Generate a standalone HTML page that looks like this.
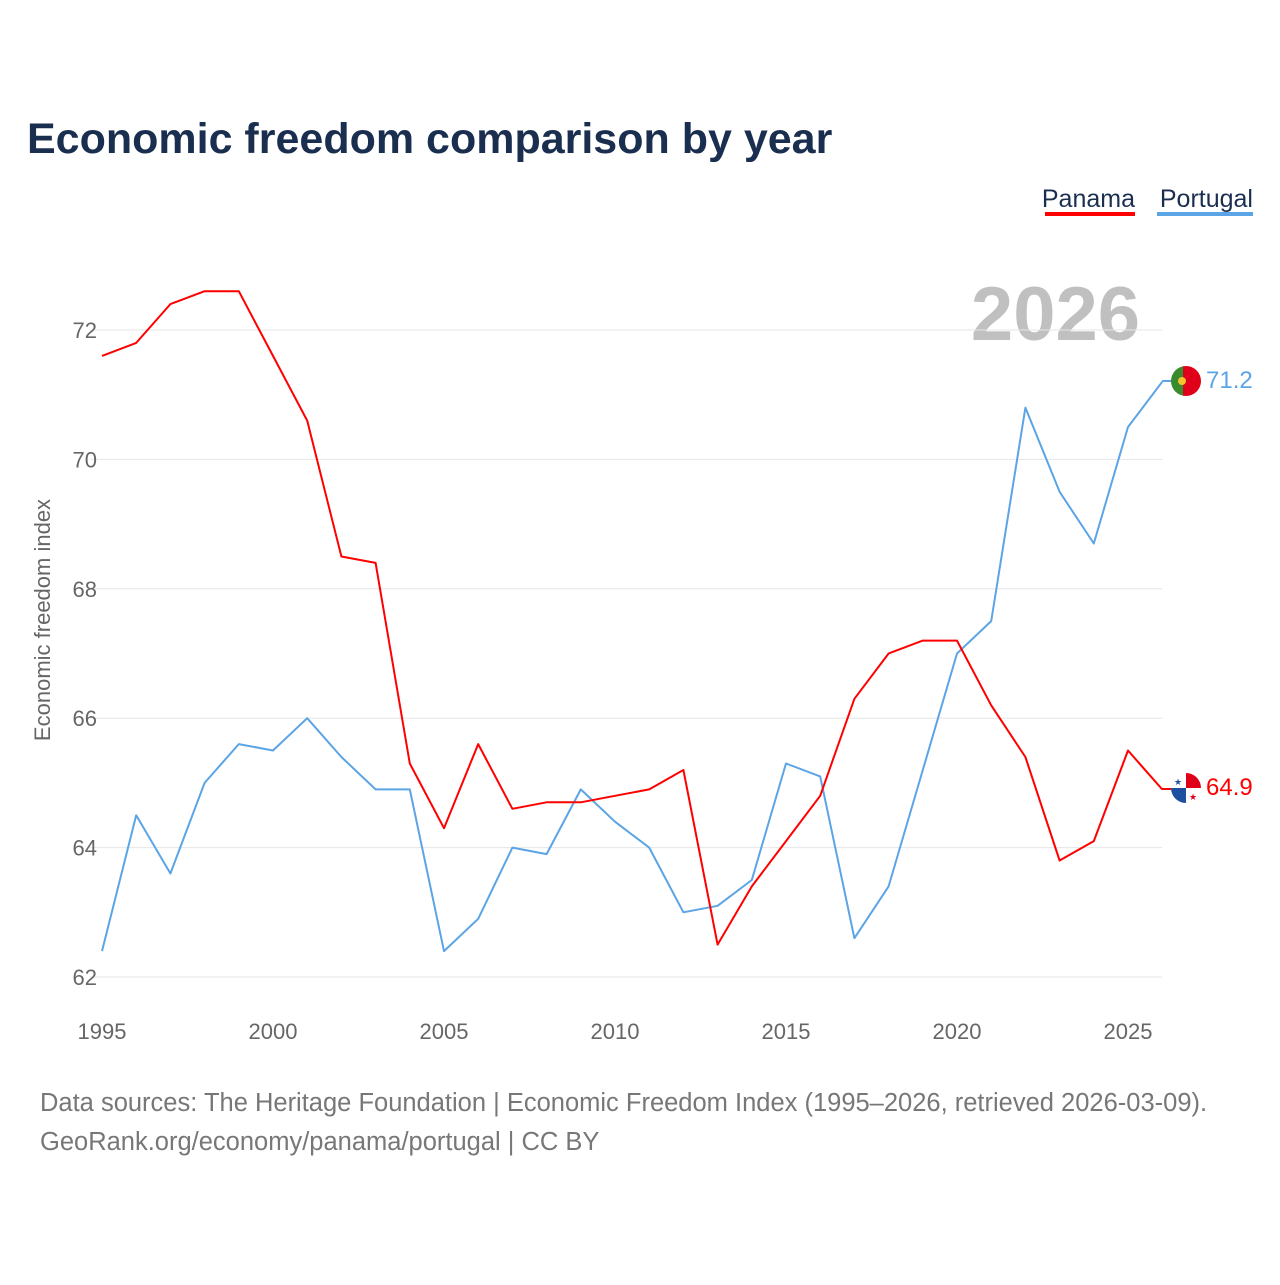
<!DOCTYPE html>
<html><head><meta charset="utf-8">
<style>
body{margin:0;background:#fff;font-family:"Liberation Sans",sans-serif;}
svg text{font-family:"Liberation Sans",sans-serif;}
</style></head>
<body>
<svg id="chart" width="1280" height="1280" xmlns="http://www.w3.org/2000/svg">
<text x="27" y="153" font-size="43" font-weight="bold" fill="#1a2e4f">Economic freedom comparison by year</text>
<g>
<text x="1135" y="207" font-size="25" fill="#1a2e4f" text-anchor="end">Panama</text>
<rect x="1045" y="212" width="90" height="4" fill="#ff0000"/>
<text x="1253" y="207" font-size="25" fill="#1a2e4f" text-anchor="end">Portugal</text>
<rect x="1157" y="212" width="96" height="4" fill="#5ba4e6"/>
</g>
<text x="1140" y="340" font-size="76" font-weight="bold" fill="#c0c0c0" text-anchor="end">2026</text>
<g id="grid"></g>
<g id="yticks"></g>
<g id="xticks"></g>
<text transform="translate(50,620) rotate(-90)" font-size="22" fill="#666" text-anchor="middle">Economic freedom index</text>
<g id="lines"></g>
<line x1="1162" y1="381" x2="1172" y2="381" stroke="#5ba4e6" stroke-width="2"/>
<line x1="1162" y1="789" x2="1172" y2="789" stroke="#ff0000" stroke-width="2"/>
<g>
<clipPath id="cp1"><circle cx="1186" cy="381" r="15"/></clipPath>
<g clip-path="url(#cp1)"><rect x="1171" y="366" width="12" height="30" fill="#3a8a2e"/><rect x="1183" y="366" width="18" height="30" fill="#e0001a"/></g>
<circle cx="1182" cy="381" r="4" fill="#f4c430"/>
</g>
<g>
<clipPath id="cp2"><circle cx="1186" cy="788" r="15"/></clipPath>
<g clip-path="url(#cp2)"><rect x="1171" y="773" width="30" height="30" fill="#fff"/><rect x="1186" y="773" width="15" height="15" fill="#e0001a"/><rect x="1171" y="788" width="15" height="15" fill="#1e50a0"/></g>
<text x="1178" y="785" font-size="9" fill="#1e50a0" text-anchor="middle">★</text>
<text x="1193" y="800" font-size="9" fill="#e0001a" text-anchor="middle">★</text>
</g>
<text x="1206" y="388" font-size="24" fill="#5ba4e6">71.2</text>
<text x="1206" y="795" font-size="24" fill="#ff0000">64.9</text>
<text x="40" y="1111" font-size="25.5" fill="#777">Data sources: The Heritage Foundation | Economic Freedom Index (1995–2026, retrieved 2026-03-09).</text>
<text x="40" y="1150" font-size="25.5" fill="#777">GeoRank.org/economy/panama/portugal | CC BY</text>
</svg>
<script>
const years=[1995,1996,1997,1998,1999,2000,2001,2002,2003,2004,2005,2006,2007,2008,2009,2010,2011,2012,2013,2014,2015,2016,2017,2018,2019,2020,2021,2022,2023,2024,2025,2026];
const panama=[71.6,71.8,72.4,72.6,72.6,71.6,70.6,68.5,68.4,65.3,64.3,65.6,64.6,64.7,64.7,64.8,64.9,65.2,62.5,63.4,64.1,64.8,66.3,67.0,67.2,67.2,66.2,65.4,63.8,64.1,65.5,64.9];
const portugal=[62.4,64.5,63.6,65.0,65.6,65.5,66.0,65.4,64.9,64.9,62.4,62.9,64.0,63.9,64.9,64.4,64.0,63.0,63.1,63.5,65.3,65.1,62.6,63.4,65.2,67.0,67.5,70.8,69.5,68.7,70.5,71.2];
const yTicks=[62,64,66,68,70,72];
const xTicks=[1995,2000,2005,2010,2015,2020,2025];
const NS="http://www.w3.org/2000/svg";
const xS=y=>102+(y-1995)*(1026/30);
const yS=v=>977-(v-62)*(647/10);
function mk(t,a,p){const e=document.createElementNS(NS,t);for(const k in a)e.setAttribute(k,a[k]);p.appendChild(e);return e;}
const grid=document.getElementById('grid'),yt=document.getElementById('yticks'),xt=document.getElementById('xticks'),lines=document.getElementById('lines');
yTicks.forEach(v=>{
 const l=mk('line',{x1:90,x2:1162,y1:yS(v),y2:yS(v),stroke:'#e6e6e6','stroke-width':1},grid);
 
 
 const t=mk('text',{x:97,y:yS(v)+8,'font-size':22,fill:'#666','text-anchor':'end'},yt);
 t.textContent=v;
 
 
});
xTicks.forEach(v=>{
 const t=mk('text',{x:xS(v),y:1039,'font-size':22,fill:'#666','text-anchor':'middle'},xt);
 t.textContent=v;
 
 
});
function line(data,color,name){
 const d=data.map((v,i)=>(i?'L':'M')+xS(years[i]).toFixed(1)+','+yS(v).toFixed(1)).join(' ');
 const p=mk('path',{d:d,fill:'none',stroke:color,'stroke-width':2,'stroke-linejoin':'round'},lines);
 
 
}
line(portugal,'#5ba4e6','line-portugal');
line(panama,'#ff0000','line-panama');
</script>
</body></html>
